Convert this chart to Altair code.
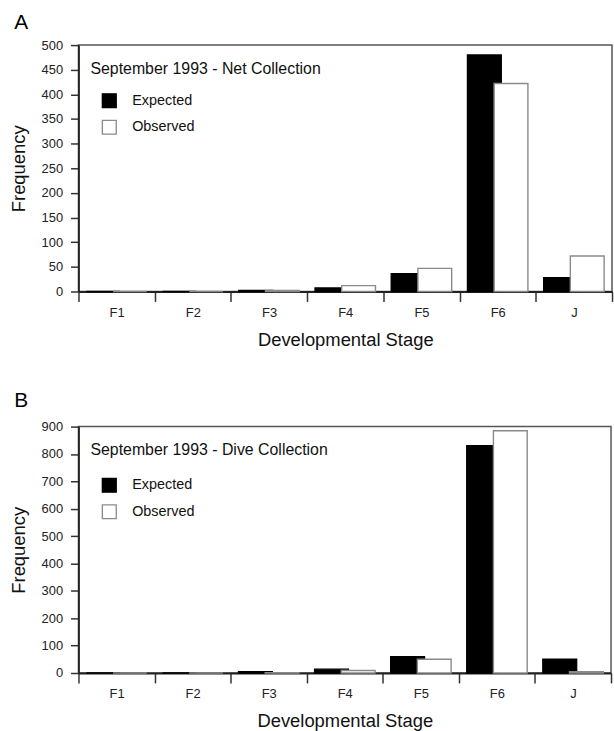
import altair as alt
import pandas as pd

stages = ["F1", "F2", "F3", "F4", "F5", "F6", "J"]
series_names = ["Expected", "Observed"]

net_expected = [0, 0, 2, 7, 36, 480, 28]
net_observed = [0, 0, 2, 12, 47, 422, 72]
dive_expected = [0, 0, 5, 14, 60, 830, 50]
dive_observed = [0, 0, 1, 9, 50, 885, 5]

panel_letters = ["A", "B"]
panel_titles = ["September 1993 - Net Collection", "September 1993 - Dive Collection"]
net_ticks = list(range(0, 501, 50))
dive_ticks = list(range(0, 901, 100))

FONT = "Liberation Sans"


def make_df(exp, obs):
    rows = []
    for s, e, o in zip(stages, exp, obs):
        rows.append({"stage": s, "series": "Expected", "value": e})
        rows.append({"stage": s, "series": "Observed", "value": o})
    return pd.DataFrame(rows)


def legend(lx, ly):
    return alt.Legend(title=None, orient="none", legendX=lx, legendY=ly,
                      symbolType="square", symbolSize=196,
                      symbolStrokeWidth=1.3, labelFontSize=14.5,
                      labelFont=FONT, labelColor="#111111", rowPadding=6.7,
                      labelOffset=15, padding=0)


def panel(exp, obs, letter, label, ticks, ymax, width, height, ly, toff):
    df = make_df(exp, obs)
    bars = alt.Chart(df).mark_bar(strokeWidth=1.4, width=34).encode(
        x=alt.X("stage:N", sort=stages,
                scale=alt.Scale(paddingInner=0, paddingOuter=0),
                axis=alt.Axis(title="Developmental Stage", labelAngle=0,
                              tickBand="extent", tickSize=10, labelPadding=5,
                              titlePadding=11)),
        xOffset=alt.XOffset("series:N", sort=series_names,
                            scale=alt.Scale(paddingOuter=0.43, paddingInner=0)),
        y=alt.Y("value:Q", scale=alt.Scale(domain=[0, ymax], nice=False),
                axis=alt.Axis(title="Frequency", values=ticks, tickSize=8,
                              labelPadding=8, titlePadding=13)),
        fill=alt.Fill("series:N", sort=series_names,
                      scale=alt.Scale(domain=series_names, range=["#000000", "#ffffff"]),
                      legend=legend(23, ly)),
        stroke=alt.Stroke("series:N", sort=series_names,
                          scale=alt.Scale(domain=series_names, range=["#000000", "#8a8a8a"]),
                          legend=legend(23, ly)),
        order=alt.Order("series:N"),
    )
    txt = alt.Chart(pd.DataFrame({"t": [label]})).mark_text(
        align="left", baseline="middle", fontSize=16, font=FONT, color="#111111"
    ).encode(x=alt.value(12), y=alt.value(24), text="t:N")
    return alt.layer(bars, txt).properties(
        width=width, height=height,
        title=alt.TitleParams(letter, anchor="start", frame="bounds", fontSize=21,
                              fontWeight="normal", font=FONT, offset=toff, dx=5,
                              color="#000000"),
    ).resolve_scale(fill="independent", stroke="independent")


a = panel(net_expected, net_observed, panel_letters[0], panel_titles[0], net_ticks,
          500, 537, 248, 48, 6)
b = panel(dive_expected, dive_observed, panel_letters[1], panel_titles[1], dive_ticks,
          900, 536, 248, 51, 10)

chart = alt.vconcat(a, b, spacing=39).resolve_scale(
    y="independent", fill="independent", stroke="independent"
).properties(
    padding={"left": 8, "top": 9, "right": 0, "bottom": 0}
).configure_view(stroke="#555555", strokeWidth=1.5).configure_axis(
    grid=False, domainColor="#222222", domainWidth=1.8, tickColor="#333333",
    tickWidth=1.5, labelFont=FONT, labelFontSize=13, labelColor="#222222",
    titleFont=FONT, titleFontSize=18.5, titleFontWeight="normal", titleColor="#111111"
)

chart.save("out.html", embed_options={"renderer": "svg", "actions": False})
